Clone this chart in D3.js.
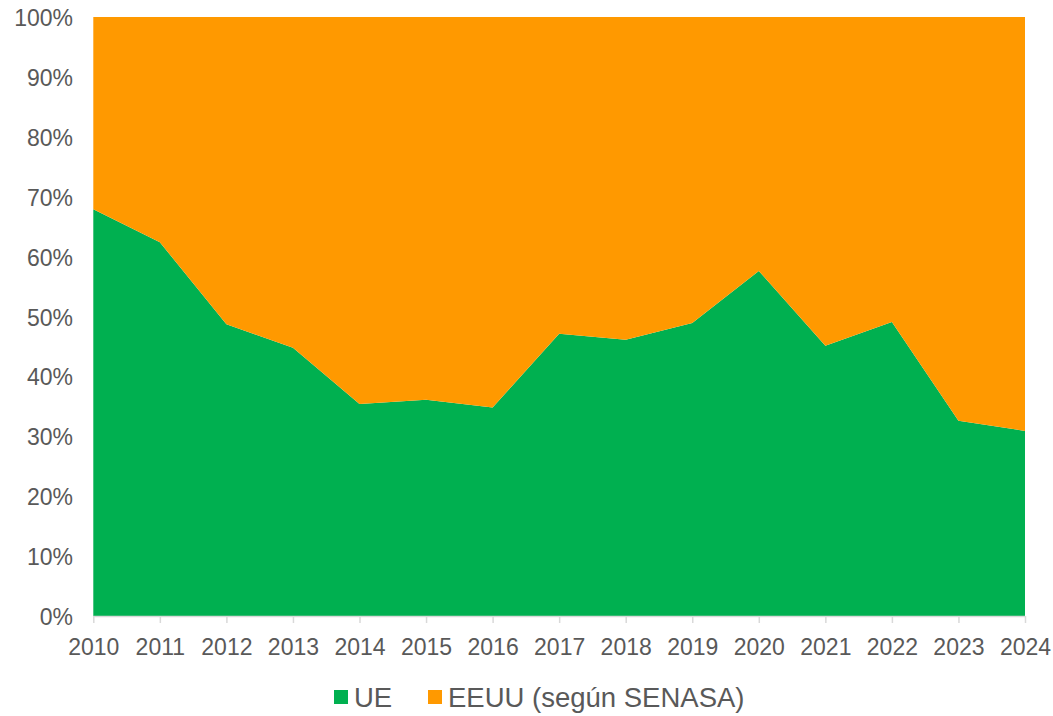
<!DOCTYPE html>
<html>
<head>
<meta charset="utf-8">
<script src="https://cdn.jsdelivr.net/npm/d3@7"></script>
<style>
  body { margin: 0; background: #fff; }
  svg text { font-family: "Liberation Sans", Arial, sans-serif; fill: #595959; }
</style>
</head>
<body>
<svg id="chart" width="1053" height="716"></svg>
<script>
// share of exports by destination (%)
const years = [2010, 2011, 2012, 2013, 2014, 2015, 2016, 2017, 2018, 2019, 2020, 2021, 2022, 2023, 2024];
const ue = [67.9, 62.4, 48.7, 44.8, 35.4, 36.1, 34.8, 47.1, 46.1, 48.9, 57.6, 45.1, 49.1, 32.6, 30.9];
const eeuu = ue.map(v => 100 - v);   // the rest up to 100%
const seriesNames = ['UE', 'EEUU (según SENASA)'];
const seriesColors = ['#00B050', '#FF9900'];
const yTicks = [0, 10, 20, 30, 40, 50, 60, 70, 80, 90, 100];

const svg = d3.select('#chart');
const m = { left: 93.3, right: 1025, top: 17, bottom: 616 };

const rows = years.map((y, i) => ({ year: y, UE: ue[i], EEUU: eeuu[i] }));
const stack = d3.stack().keys(['UE', 'EEUU'])(rows);

const x = d3.scaleLinear().domain([years[0], years[years.length - 1]]).range([m.left, m.right]);
const y = d3.scaleLinear().domain([0, 100]).range([m.bottom, m.top]);

const area = d3.area()
    .x(d => x(d.data.year))
    .y0(d => y(d[0]))
    .y1(d => y(d[1]));

svg.append('g').selectAll('path').data(stack).join('path')
    .attr('d', area)
    .attr('fill', (d, i) => seriesColors[i]);

// y axis labels
svg.append('g').selectAll('text').data(yTicks).join('text')
    .attr('x', 73).attr('y', d => y(d) + 9)
    .attr('text-anchor', 'end')
    .attr('font-size', '23px')
    .text(d => d + '%');

// x axis: baseline + ticks + labels
const xAxis = svg.append('g').attr('transform', `translate(0,${m.bottom})`)
    .call(d3.axisBottom(x).tickValues(years).tickFormat(d3.format('d')).tickSize(7).tickPadding(15.5));
xAxis.select('.domain').attr('stroke', '#d9d9d9').attr('stroke-width', 1.5).attr('d', `M${m.left},0.5H${m.right}`);
xAxis.selectAll('.tick line').attr('stroke', '#d9d9d9').attr('stroke-width', 1.5);
xAxis.selectAll('.tick text').attr('font-size', '23px').attr('fill', '#595959')
    .attr('font-family', '"Liberation Sans", Arial, sans-serif');

// legend
const legendPos = [334, 428];
const lg = svg.append('g').selectAll('g').data(seriesNames).join('g')
    .attr('transform', (d, i) => `translate(${legendPos[i]},690)`);
lg.append('rect').attr('width', 14).attr('height', 14).attr('fill', (d, i) => seriesColors[i]);
lg.append('text').attr('x', 20).attr('y', 16.5).attr('font-size', '27.5px').text(d => d);
</script>
</body>
</html>
